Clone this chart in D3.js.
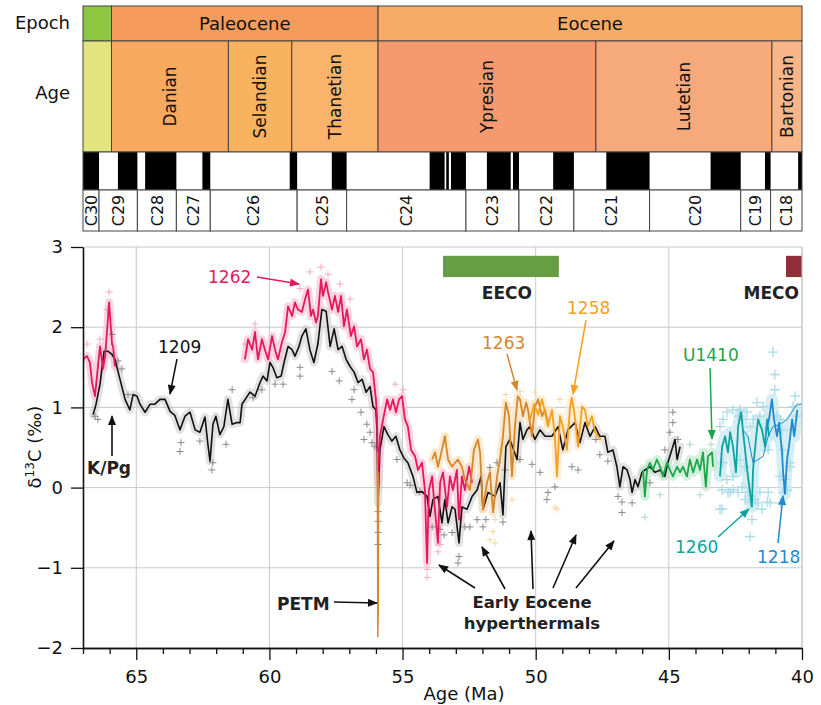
<!DOCTYPE html>
<html>
<head>
<meta charset="utf-8">
<script src="https://cdn.jsdelivr.net/npm/d3@7"></script>
<style>
  body { margin: 0; background: #fff; }
  svg { font-family: "DejaVu Sans", sans-serif; }
</style>
</head>
<body>
<svg id="chart" width="821" height="705"></svg>
<script>
// --- Time scale (Ma) ---
const epochNames = ["", "Paleocene", "Eocene"];
const epochBounds = [67, 65.93, 55.92, 40];
const stageNames = ["", "Danian", "Selandian", "Thanetian", "Ypresian", "Lutetian", "Bartonian"];
const stageBounds = [67, 65.93, 61.54, 59.16, 55.92, 47.74, 41.13, 40];
const chronNames = ["C30", "C29", "C28", "C27", "C26", "C25", "C24", "C23", "C22", "C21", "C20", "C19", "C18"];
const chronBounds = [67, 66.398, 64.958, 63.494, 62.221, 58.959, 57.101, 52.620, 50.628, 48.566, 45.724, 42.301, 41.180, 40];
const normalPolarity = [
  [67, 66.398], [65.688, 64.958], [64.667, 63.494], [62.517, 62.221], [59.237, 58.959],
  [57.656, 57.101], [53.983, 53.421], [53.360, 53.262], [53.181, 52.620], [51.833, 50.939],
  [50.853, 50.628], [49.344, 48.566], [47.349, 45.724], [43.432, 42.301], [41.390, 41.180], [40.145, 40]
];

// --- Axis ticks ---
const xMajorTicks = [65, 60, 55, 50, 45, 40];
const xMinorTicks = [67, 66, 64, 63, 62, 61, 59, 58, 57, 56, 54, 53, 52, 51, 49, 48, 47, 46, 44, 43, 42, 41];
const yTicks = [-2, -1, 0, 1, 2, 3];

// --- Smoothed d13C records [age Ma, d13C permil] ---
const site1209 = [
  [66.62,0.91],[66.51,1.04],[66.36,1.29],[66.21,1.70],[66.06,1.70],[65.91,1.66],[65.80,1.60],[65.61,1.35],
  [65.42,1.10],[65.24,0.97],[65.12,1.16],[64.97,1.14],[64.86,1.04],[64.67,0.94],[64.48,1.04],[64.30,1.04],
  [64.11,1.10],[63.92,1.10],[63.73,0.95],[63.55,0.90],[63.36,0.72],[63.17,0.89],[62.98,0.94],[62.79,0.72],
  [62.61,0.69],[62.42,0.88],[62.31,0.54],[62.23,0.33],[62.12,0.79],[62.01,0.89],[61.86,0.66],[61.71,0.76],
  [61.56,1.10],[61.40,0.79],[61.25,0.81],[61.10,0.81],[61.03,1.04],[60.73,1.19],[60.54,1.14],[60.35,1.31],
  [60.24,1.39],[60.09,1.33],[59.98,1.56],[59.87,1.50],[59.72,1.37],[59.56,1.39],[59.45,1.56],[59.30,1.76],
  [59.15,1.72],[59.04,1.64],[58.89,1.76],[58.78,1.89],[58.63,1.98],[58.48,1.72],[58.33,1.56],[58.18,1.79],
  [58.03,2.22],[57.87,2.20],[57.72,1.76],[57.57,1.98],[57.42,1.72],[57.27,1.76],[57.12,1.60],[56.97,1.51],
  [56.82,1.44],[56.67,1.31],[56.52,1.35],[56.37,1.19],[56.22,1.26],[56.11,1.01],[56.00,0.97],[55.96,0.72],
  [55.92,-0.19],[55.85,0.47],[55.70,0.76],[55.55,0.66],[55.40,0.58],[55.25,0.64],[55.10,0.47],[54.95,0.37],
  [54.80,0.31],[54.61,0.14],[54.46,-0.06],[54.27,-0.05],[54.08,-0.11],[53.97,-0.36],[53.86,-0.15],[53.67,-0.11],
  [53.52,-0.44],[53.41,-0.15],[53.29,-0.44],[53.14,-0.24],[53.03,-0.27],[52.88,-0.69],[52.77,-0.24],[52.58,-0.27],
  [52.39,-0.11],[52.20,-0.03],[52.05,0.14],[51.98,-0.27],[51.79,-0.06],[51.53,-0.11],[51.34,0.06],[51.23,-0.34],
  [51.12,0.51],[50.97,0.60],[50.70,0.35],[50.59,0.81],[50.48,0.60],[50.33,0.72],[50.21,0.76],[50.03,0.60],
  [49.84,0.72],[49.65,0.64],[49.39,0.64],[49.16,0.76],[48.98,0.47],[48.79,0.72],[48.52,0.81],[48.34,0.56],
  [48.15,0.81],[47.96,0.64],[47.77,0.76],[47.59,0.64],[47.40,0.64],[47.29,0.44],[47.10,0.47],[46.95,0.26],
  [46.84,0.01],[46.72,0.26],[46.57,0.22],[46.46,0.10],[46.38,-0.06],[46.27,0.10],[46.16,0.01],[46.01,0.19],
  [45.90,0.22],[45.71,0.26],[45.52,0.19],[45.33,0.22],[45.15,0.14],[45.04,0.31],[44.89,0.47],[44.77,0.60],
  [44.69,0.35],[44.58,0.51]
];
const site1262a = [
  [67.00,1.60],[66.85,1.64],[66.74,1.56],[66.66,1.31],[66.55,1.14],[66.44,1.51],[66.36,1.76],[66.25,1.48],
  [66.17,1.64],[66.10,1.94],[66.02,2.31],[65.91,1.79],[65.87,1.76],[65.80,1.51]
];
const site1262b = [
  [60.92,1.60],[60.80,1.85],[60.65,1.72],[60.54,1.94],[60.43,1.60],[60.28,1.85],[60.17,1.72],[60.05,1.60],
  [59.90,1.89],[59.79,1.72],[59.68,1.60],[59.53,1.81],[59.41,1.94],[59.30,2.26],[59.15,2.14],[59.04,2.31],
  [58.93,2.22],[58.78,2.19],[58.66,2.35],[58.55,2.47],[58.44,2.14],[58.36,2.22],[58.25,2.06],[58.18,2.14],
  [58.06,2.60],[57.99,2.39],[57.87,2.56],[57.80,2.44],[57.65,2.22],[57.54,2.39],[57.42,2.19],[57.31,2.39],
  [57.20,2.01],[57.09,2.22],[56.94,1.89],[56.82,2.01],[56.71,1.76],[56.56,1.85],[56.45,1.60],[56.34,1.72],
  [56.22,1.48],[56.11,1.44],[56.00,1.10],[55.96,0.89],[55.92,0.06],[55.85,0.64],[55.73,0.85],[55.58,1.10],
  [55.47,0.97],[55.36,1.10],[55.25,0.94],[55.13,1.10],[55.02,1.14],[54.91,0.85],[54.80,0.76],[54.68,0.47],
  [54.53,0.39],[54.42,0.22],[54.27,0.31],[54.16,-0.03],[54.08,-0.94],[54.01,-0.03],[53.89,0.14],[53.82,-0.15],
  [53.67,-0.69],[53.59,0.06],[53.48,0.19],[53.33,-0.24],[53.22,0.14],[53.11,-0.03],[52.96,0.22],[52.88,-0.40],
  [52.77,0.14],[52.66,-0.03],[52.50,0.26],[52.39,0.06]
];
const site1263Petm = [[55.95,0.45],[55.93,-1.86],[55.91,-1.50],[55.90,0.20]];
const site1263 = [
  [53.89,0.35],[53.78,0.44],[53.67,0.26],[53.52,0.47],[53.41,0.64],[53.29,0.35],[53.14,0.26],[53.03,0.31],
  [52.92,0.35],[52.77,0.26],[52.66,0.10],[52.47,-0.03],[52.32,0.47],[52.17,0.60],[52.09,0.44],[51.98,-0.27],
  [51.83,0.06],[51.72,0.19],[51.60,-0.31],[51.45,0.14],[51.34,0.35],[51.23,0.64],[51.12,1.06],[51.00,0.89],
  [50.89,0.14],[50.78,0.76],[50.67,1.14],[50.59,1.10],[50.48,0.89],[50.36,1.06],[50.29,0.97],[50.14,0.64],
  [50.03,1.01],[49.91,1.10],[49.76,0.89],[49.65,0.97],[49.54,0.81]
];
const site1258 = [
  [50.21,0.85],[50.06,1.04],[49.91,0.91],[49.76,1.10],[49.65,0.94],[49.54,0.76],[49.39,0.97],[49.28,0.64],
  [49.20,0.14],[49.09,0.89],[48.98,0.76],[48.83,0.47],[48.71,1.01],[48.64,1.12],[48.52,0.85],[48.41,0.51],
  [48.26,1.01],[48.15,0.97],[48.04,0.76],[47.89,0.89],[47.77,0.69],[47.66,0.64],[47.55,0.60]
];
const siteU1410 = [
  [45.97,0.22],[45.90,-0.11],[45.82,0.22],[45.71,0.31],[45.60,0.22],[45.45,0.35],[45.33,0.26],[45.22,0.14],
  [45.07,0.31],[44.96,0.22],[44.85,0.14],[44.69,0.26],[44.58,0.19],[44.47,0.26],[44.32,0.14],[44.21,0.35],
  [44.09,0.19],[43.94,0.35],[43.83,0.22],[43.72,0.44],[43.61,0.01],[43.53,0.39],[43.38,0.44],[43.34,0.26]
];
const site1260 = [
  [43.08,0.14],[43.00,0.51],[42.89,0.64],[42.78,0.44],[42.70,0.69],[42.59,0.51],[42.48,0.19],[42.40,0.76],
  [42.29,0.94],[42.22,0.72],[42.10,0.35],[42.03,0.14],[41.88,-0.24],[41.84,0.22],[41.73,0.60],[41.65,0.85],
  [41.50,0.72],[41.39,0.51],[41.31,0.85],[41.24,0.64]
];
const site1218 = [
  [41.35,0.72],[41.24,0.85],[41.13,1.10],[41.05,0.85],[40.94,0.64],[40.86,0.81],[40.75,0.44],[40.71,0.19],
  [40.64,-0.08],[40.56,0.35],[40.49,0.51],[40.37,0.85],[40.29,0.64],[40.18,0.97]
];
const site1218Smooth = [
  [42.22,0.72],[42.03,0.64],[41.84,0.31],[41.65,0.35],[41.46,0.39],[41.27,0.64],[41.09,0.76],[40.82,0.79],
  [40.56,0.85],[40.33,0.97],[40.18,1.04],[40.00,1.04]
];

// --- Individual measurements shown as crosses ---
const raw1209 = [
  [66.55,0.89],[66.44,0.85],[65.91,1.91],[65.69,1.58],[65.54,1.48],[65.31,1.16],[63.32,0.56],[63.36,0.45],
  [62.61,0.58],[62.12,0.31],[62.16,0.22],[61.63,0.54],[61.40,1.22],[60.62,1.12],[60.28,1.22],[59.79,1.29],
  [59.49,1.29],[58.85,1.50],[58.85,1.39],[57.65,1.45],[57.38,1.33],[56.90,1.10],[56.82,1.22],[56.56,0.94],
  [56.45,0.60],[56.34,0.79],[56.22,0.69],[56.15,0.56],[56.04,0.51],[55.92,-0.30],[55.92,-0.42],[55.92,-0.56],
  [55.92,-0.71],[54.83,0.06],[54.72,0.03],[55.21,0.35],[54.35,-0.05],[53.89,-0.49],[53.59,-0.52],[53.44,-0.59],
  [53.14,-0.56],[52.88,-0.86],[52.92,-0.94],[52.66,-0.49],[52.47,-0.49],[52.20,-0.40],[51.98,-0.49],[51.87,-0.40],
  [51.23,-0.43],[51.72,0.25],[51.45,0.31],[51.15,0.22],[50.59,0.35],[50.14,0.29],[49.84,0.19],[49.54,-0.06],
  [49.28,0.01],[49.58,-0.15],[48.64,0.26],[48.41,0.22],[47.74,0.60],[47.59,0.41],[47.29,0.33],[46.91,-0.11],
  [46.76,-0.18],[46.76,-0.31],[46.38,-0.19],[45.71,0.06],[45.15,0.47],[44.96,0.69],[44.85,0.94],[44.85,0.81],
  [44.66,0.60]
];
const raw1262 = [
  [66.02,2.44],[66.10,2.22],[66.36,1.85],[66.85,1.79],[60.92,1.79],[60.54,2.04],[58.48,2.69],[58.06,2.75],
  [57.80,2.66],[58.85,2.48],[57.35,2.54],[56.97,2.35],[55.28,1.29],[54.98,1.22],[54.08,-1.12],[54.08,-1.02],
  [53.67,-0.80],[53.59,-0.71]
];
const raw1263 = [
  [53.37,0.64],[51.53,-0.40],[51.60,-0.55],[51.53,-0.69],[50.89,-0.15],[51.72,-0.65],[49.28,-0.25],[49.20,-0.27],
  [50.59,1.20],[50.03,1.19],[48.52,1.22],[49.09,1.10],[51.12,1.16],[51.34,0.47]
];
const rawU1410 = [[45.90,-0.37],[45.33,-0.09],[44.21,0.54],[43.83,-0.09],[43.42,0.54]];
const raw1260 = [
  [43.08,0.76],[43.00,-0.03],[43.00,-0.27],[42.78,-0.06],[42.82,0.10],[42.59,0.14],[42.40,0.89],[42.33,0.97],
  [42.22,0.85],[42.70,-0.06],[42.40,-0.06],[42.25,0.01],[42.14,-0.15],[42.03,-0.06],[41.95,-0.18],[41.77,-0.15],
  [41.65,-0.19],[41.50,-0.27],[41.31,-0.18],[41.20,-0.19],[41.27,0.47],[41.84,0.85],[41.58,0.89],[41.46,1.01],
  [41.09,1.69],[41.02,1.41],[41.02,1.22],[40.94,0.89],[40.82,0.85],[40.75,0.72],[40.71,0.47],[40.82,0.14],
  [40.64,0.10],[40.56,-0.03],[40.45,0.26],[40.37,0.72],[40.33,1.01],[40.26,1.14],[40.18,0.89],[42.97,0.85],
  [42.82,0.94],[42.59,0.97],[42.07,0.94],[41.95,0.76],[41.69,1.06],[42.33,0.35],[42.14,0.26],[41.27,-0.06],
  [42.97,0.31],[43.08,-0.27],[41.95,-0.61],[42.59,-0.03],[41.58,-0.06],[40.82,-0.19],[40.71,-0.06],[40.45,0.31],
  [41.88,-0.40]
];

// --- Event bars (age ranges) ---
const eecoRange = [53.48, 49.13];
const mecoRange = [40.6, 40.0];

// --- Colours ---
const epochColors = ["#8dc63f", "#f59b5b", "#f8ab66"];
const stageColors = ["#e2e57e", "#f6a95f", "#f9b35e", "#f9b36b", "#f59a6f", "#f6a97a", "#f8b688"];

const svg = d3.select("#chart");
const x = d3.scaleLinear().domain([67, 40]).range([83, 802]);
const y = d3.scaleLinear().domain([-2, 3]).range([648, 247]);

// We draw the time scale header
const header = svg.append("g");
const rows = { epoch: [6, 41], stage: [41, 152], pol: [152, 190], chron: [190, 231] };

epochNames.forEach((name, i) => {
  const x0 = x(epochBounds[i]), x1 = x(epochBounds[i + 1]);
  header.append("rect").attr("x", x0).attr("y", rows.epoch[0]).attr("width", x1 - x0)
    .attr("height", rows.epoch[1] - rows.epoch[0]).attr("fill", epochColors[i])
    .attr("stroke", "#444").attr("stroke-width", 1);
  header.append("text").attr("x", (x0 + x1) / 2).attr("y", 30).attr("text-anchor", "middle")
    .attr("font-size", 18).attr("fill", "#111").text(name);
});

stageNames.forEach((name, i) => {
  const x0 = x(stageBounds[i]), x1 = x(stageBounds[i + 1]);
  header.append("rect").attr("x", x0).attr("y", rows.stage[0]).attr("width", x1 - x0)
    .attr("height", rows.stage[1] - rows.stage[0]).attr("fill", stageColors[i])
    .attr("stroke", "#444").attr("stroke-width", 1);
  header.append("text")
    .attr("transform", `translate(${(x0 + x1) / 2},${(rows.stage[0] + rows.stage[1]) / 2}) rotate(-90)`)
    .attr("text-anchor", "middle").attr("dy", "0.36em")
    .attr("font-size", 17).attr("fill", "#111").text(name);
});

// polarity row
header.append("rect").attr("x", x(67)).attr("y", rows.pol[0]).attr("width", x(40) - x(67))
  .attr("height", rows.pol[1] - rows.pol[0]).attr("fill", "#fff");
header.selectAll(".normal").data(normalPolarity).join("rect")
  .attr("x", d => x(d[0])).attr("y", rows.pol[0])
  .attr("width", d => x(d[1]) - x(d[0])).attr("height", rows.pol[1] - rows.pol[0])
  .attr("fill", "#000");
header.append("rect").attr("x", x(67)).attr("y", rows.pol[0]).attr("width", x(40) - x(67))
  .attr("height", rows.pol[1] - rows.pol[0]).attr("fill", "none").attr("stroke", "#444");

// chron labels row
chronNames.forEach((name, i) => {
  const x0 = x(chronBounds[i]), x1 = x(chronBounds[i + 1]);
  header.append("rect").attr("x", x0).attr("y", rows.chron[0]).attr("width", x1 - x0)
    .attr("height", rows.chron[1] - rows.chron[0]).attr("fill", "#fff")
    .attr("stroke", "#444").attr("stroke-width", 1);
  header.append("text")
    .attr("transform", `translate(${(x0 + x1) / 2},${(rows.chron[0] + rows.chron[1]) / 2}) rotate(-90)`)
    .attr("text-anchor", "middle").attr("dy", "0.36em")
    .attr("font-size", 16).attr("fill", "#111").text(name);
});

header.append("text").attr("x", 70).attr("y", 29).attr("text-anchor", "end")
  .attr("font-size", 18).attr("fill", "#111").text("Epoch");
header.append("text").attr("x", 70).attr("y", 99).attr("text-anchor", "end")
  .attr("font-size", 18).attr("fill", "#111").text("Age");

// We draw the grid
const grid = svg.append("g").attr("stroke", "#c8c8c8").attr("stroke-width", 1);
xMajorTicks.forEach(t => {
  grid.append("line").attr("x1", x(t)).attr("x2", x(t)).attr("y1", y(3)).attr("y2", y(-2));
});
yTicks.filter(t => t > -2).forEach(t => {
  grid.append("line").attr("x1", x(67)).attr("x2", x(40)).attr("y1", y(t)).attr("y2", y(t));
});

// We clip the data to the plot area
svg.append("clipPath").attr("id", "plotclip").append("rect")
  .attr("x", x(67)).attr("y", y(3) - 10).attr("width", x(40) - x(67)).attr("height", y(-2) - y(3) + 10);
const plot = svg.append("g").attr("clip-path", "url(#plotclip)");

const line = d3.line().x(d => x(d[0])).y(d => y(d[1]));

function drawCrosses(data, color, size, width) {
  plot.append("g").attr("stroke", color).attr("stroke-width", width).attr("fill", "none")
    .selectAll("path").data(data).join("path")
    .attr("d", d => `M${x(d[0]) - size},${y(d[1])}h${2 * size}M${x(d[0])},${y(d[1]) - size}v${2 * size}`);
}
function drawHalo(data, color, width, opacity) {
  plot.append("path").datum(data).attr("d", line).attr("fill", "none")
    .attr("stroke", color).attr("stroke-width", width).attr("stroke-opacity", opacity)
    .attr("stroke-linejoin", "round").attr("stroke-linecap", "round");
}
function drawLine(data, color, width) {
  plot.append("path").datum(data).attr("d", line).attr("fill", "none")
    .attr("stroke", color).attr("stroke-width", width).attr("stroke-linejoin", "round");
}

// halos standing in for the dense clouds of measurements
drawHalo(site1260, "#c6e8f0", 12, 0.75);
drawHalo(site1218, "#c6e8f0", 12, 0.75);
drawHalo(site1209, "#bdbdbd", 8, 0.45);
drawHalo(site1262a, "#f6bfd2", 8, 0.65);
drawHalo(site1262b, "#f6bfd2", 8, 0.65);
drawHalo(site1263, "#f9dfba", 8, 0.65);
drawHalo(site1258, "#fce6c4", 8, 0.65);
drawHalo(siteU1410, "#bfe6cb", 9, 0.65);

drawCrosses(raw1260, "#a8dce8", 5, 1.3);
drawCrosses(raw1209, "#8a8a8a", 3.5, 1);
drawCrosses(raw1262, "#f2a9c2", 3.5, 1);
drawCrosses(raw1263, "#f7d5a3", 3.5, 1);
drawCrosses(rawU1410, "#a6dcb6", 3.5, 1);

drawLine(site1209, "#111", 1.6);
drawLine(site1262a, "#e5185e", 1.8);
drawLine(site1262b, "#e5185e", 1.8);
drawLine(site1263Petm, "#d4872b", 1.4);
drawLine(site1263, "#d4872b", 1.8);
drawLine(site1258, "#f4a01f", 1.8);
drawLine(siteU1410, "#1aa64a", 1.8);
drawLine(site1260, "#0fa39e", 1.8);
drawLine(site1218Smooth, "#1c8ad1", 1);
drawLine(site1218, "#1c8ad1", 1.8);

// event bars
svg.append("rect").attr("x", x(eecoRange[0])).attr("width", x(eecoRange[1]) - x(eecoRange[0]))
  .attr("y", y(2.89)).attr("height", y(2.625) - y(2.89)).attr("fill", "#679e44");
svg.append("rect").attr("x", x(mecoRange[0])).attr("width", x(mecoRange[1]) - x(mecoRange[0]))
  .attr("y", y(2.89)).attr("height", y(2.625) - y(2.89)).attr("fill", "#8f3038");

// We add the axes
const xMinor = svg.append("g").attr("transform", `translate(0,${y(-2)})`)
  .call(d3.axisBottom(x).tickValues(xMinorTicks).tickSize(6).tickFormat("").tickSizeOuter(0));
const xMajor = svg.append("g").attr("transform", `translate(0,${y(-2)})`)
  .call(d3.axisBottom(x).tickValues(xMajorTicks).tickSize(12).tickPadding(10).tickSizeOuter(0).tickFormat(d3.format("d")));
const yAxis = svg.append("g").attr("transform", `translate(${x(67)},0)`)
  .call(d3.axisLeft(y).tickValues(yTicks).tickSize(12).tickPadding(8).tickSizeOuter(0).tickFormat(d3.format("d")));
[xMinor, xMajor, yAxis].forEach(a => {
  a.selectAll("text").attr("font-size", 18).attr("font-family", "DejaVu Sans").attr("fill", "#111");
  a.selectAll("line").attr("stroke", "#111").attr("stroke-width", 1.3);
  a.select(".domain").attr("stroke", "#111").attr("stroke-width", 1.6);
});
// right border
svg.append("line").attr("x1", x(40)).attr("x2", x(40)).attr("y1", y(3)).attr("y2", y(-2))
  .attr("stroke", "#c8c8c8");

svg.append("text").attr("x", 464).attr("y", 700).attr("text-anchor", "middle")
  .attr("font-size", 18).attr("fill", "#111").text("Age (Ma)");
const yl = svg.append("text").attr("transform", "translate(41,447) rotate(-90)")
  .attr("text-anchor", "middle").attr("font-size", 18).attr("fill", "#111");
yl.append("tspan").text("δ");
yl.append("tspan").attr("dy", -7).attr("font-size", 12).text("13");
yl.append("tspan").attr("dy", 7).text("C (‰)");

// --- Annotations ---
const defs = svg.append("defs");
function marker(id, color) {
  defs.append("marker").attr("id", id).attr("viewBox", "0 0 10 8").attr("refX", 9).attr("refY", 4)
    .attr("markerWidth", 11).attr("markerHeight", 8).attr("markerUnits", "userSpaceOnUse")
    .attr("orient", "auto").append("path").attr("d", "M0,0L10,4L0,8z").attr("fill", color);
}
const labels = [
  { t: "1262", x: 208, y: 283, c: "#e5185e", a: [257, 277, 299, 284] },
  { t: "1209", x: 158, y: 353, c: "#111", a: [177, 359, 170, 394] },
  { t: "1263", x: 482, y: 349, c: "#d4872b", a: [507, 354, 517, 390] },
  { t: "1258", x: 567, y: 314, c: "#f4a01f", a: [586, 320, 573, 394] },
  { t: "U1410", x: 683, y: 361, c: "#1aa64a", a: [710, 368, 712, 439] },
  { t: "1260", x: 675, y: 553, c: "#0fa39e", a: [718, 537, 749, 509] },
  { t: "1218", x: 757, y: 563, c: "#1c8ad1", a: [778, 543, 783, 496] }
];
labels.forEach((l, i) => {
  marker("ah" + i, l.c);
  svg.append("text").attr("x", l.x).attr("y", l.y).attr("font-size", 17).attr("fill", l.c).text(l.t);
  svg.append("line").attr("x1", l.a[0]).attr("y1", l.a[1]).attr("x2", l.a[2]).attr("y2", l.a[3])
    .attr("stroke", l.c).attr("stroke-width", 1.5).attr("marker-end", `url(#ah${i})`);
});

marker("ahk", "#111");
const blackArrows = [
  [112, 456, 112, 416],
  [334, 602, 377, 603],
  [475, 588, 439, 565],
  [505, 589, 482, 547],
  [533, 589, 531, 531],
  [553, 588, 576, 535],
  [576, 588, 614, 541]
];
blackArrows.forEach(a => {
  svg.append("line").attr("x1", a[0]).attr("y1", a[1]).attr("x2", a[2]).attr("y2", a[3])
    .attr("stroke", "#111").attr("stroke-width", 1.6).attr("marker-end", "url(#ahk)");
});

const boldLabels = [
  { t: "K/Pg", x: 87, y: 474, anchor: "start", s: 17 },
  { t: "PETM", x: 277, y: 610, anchor: "start", s: 17 },
  { t: "EECO", x: 532, y: 299, anchor: "end", s: 17 },
  { t: "MECO", x: 799, y: 299, anchor: "end", s: 17 },
  { t: "Early Eocene", x: 532, y: 608, anchor: "middle", s: 16.5 },
  { t: "hyperthermals", x: 532, y: 629, anchor: "middle", s: 16.5 }
];
boldLabels.forEach(l => {
  svg.append("text").attr("x", l.x).attr("y", l.y).attr("text-anchor", l.anchor)
    .attr("font-size", l.s).attr("font-weight", "bold").attr("fill", "#222").text(l.t);
});
</script>
</body>
</html>
